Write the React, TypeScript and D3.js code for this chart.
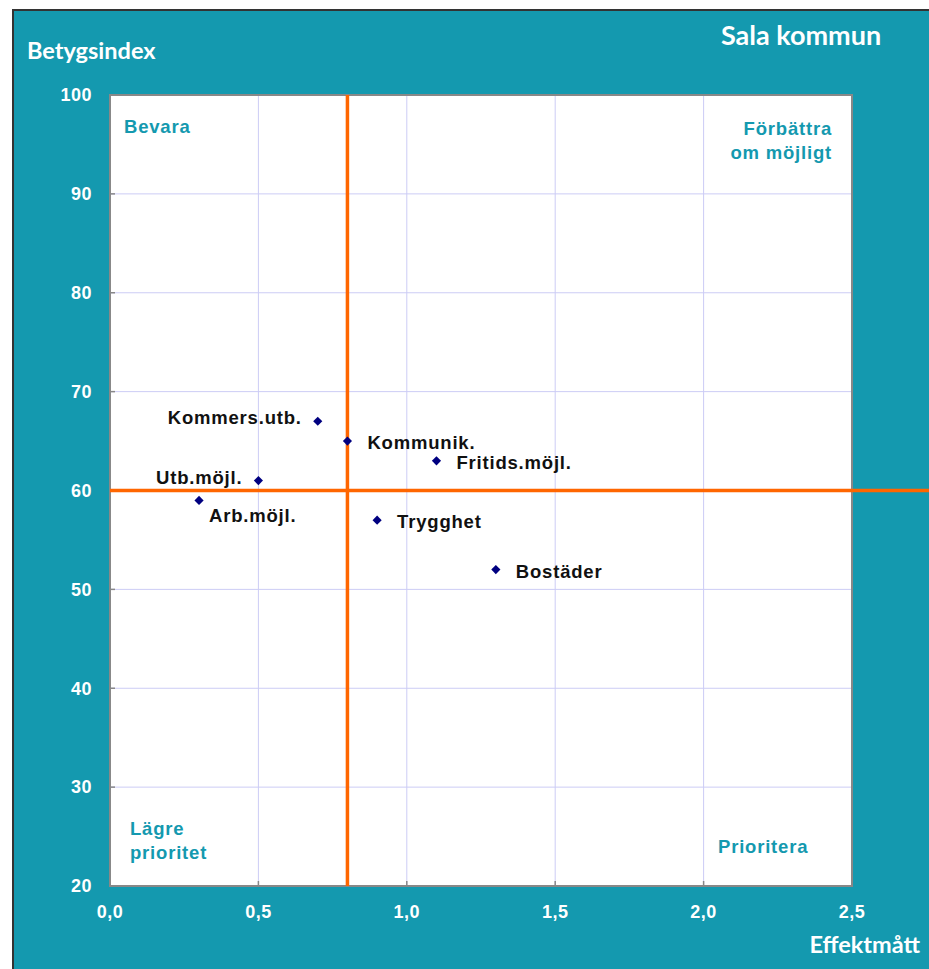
import React, { useRef, useEffect } from 'react';
import * as d3 from 'd3';

// data
const labels = ['Kommers.utb.', 'Kommunik.', 'Fritids.möjl.', 'Utb.möjl.', 'Arb.möjl.', 'Trygghet', 'Bostäder'];
const effekt = [0.7, 0.8, 1.1, 0.5, 0.3, 0.9, 1.3];
const betyg = [67, 65, 63, 61, 59, 57, 52];
// where each label sits relative to its point
const labelSide = ['left', 'right', 'right', 'left', 'below', 'right', 'right'];
const xTicks = [0, 0.5, 1, 1.5, 2, 2.5];
const yTicks = [20, 30, 40, 50, 60, 70, 80, 90, 100];
const xCut = 0.8;
const yCut = 60;

const TEAL = '#1499AF';
const W = 929;
const H = 969;

const App = () => {
  const svgRef = useRef<SVGSVGElement>(null);

  useEffect(() => {
    const svg = d3.select(svgRef.current);
    svg.selectAll('*').remove();

    // bakgrund
    svg.append('rect').attr('x', 13).attr('y', 10).attr('width', W).attr('height', H)
      .attr('fill', TEAL).attr('stroke', '#333').attr('stroke-width', 2);

    const x = d3.scaleLinear().domain([0, 2.5]).range([110, 852]);
    const y = d3.scaleLinear().domain([20, 100]).range([886, 95]);

    svg.append('rect').attr('x', x(0)).attr('y', y(100))
      .attr('width', x(2.5) - x(0)).attr('height', y(20) - y(100)).attr('fill', '#fff');

    // rutnät
    const grid = svg.append('g').attr('stroke', '#ccccf5').attr('stroke-width', 1);
    grid.selectAll('line.gx').data(xTicks.slice(1, -1)).enter().append('line')
      .attr('x1', d => x(d)).attr('x2', d => x(d)).attr('y1', y(100)).attr('y2', y(20));
    grid.selectAll('line.gy').data(yTicks.slice(1, -1)).enter().append('line')
      .attr('x1', x(0)).attr('x2', x(2.5)).attr('y1', d => y(d)).attr('y2', d => y(d));

    // ram
    svg.append('rect').attr('x', x(0)).attr('y', y(100))
      .attr('width', x(2.5) - x(0)).attr('height', y(20) - y(100))
      .attr('fill', 'none').attr('stroke', '#888').attr('stroke-width', 2);

    // tickmarks
    const tk = svg.append('g').attr('stroke', '#888').attr('stroke-width', 1.5);
    tk.selectAll('line.tx').data(xTicks).enter().append('line')
      .attr('x1', d => x(d)).attr('x2', d => x(d)).attr('y1', y(20) - 5).attr('y2', y(20));
    tk.selectAll('line.ty').data(yTicks).enter().append('line')
      .attr('x1', x(0)).attr('x2', x(0) + 5).attr('y1', d => y(d)).attr('y2', d => y(d));

    // tick labels
    const tickFont = "'Liberation Sans', Arial, sans-serif";
    svg.append('g').selectAll('text').data(yTicks).enter().append('text')
      .attr('x', 92).attr('y', d => y(d)).attr('dy', '0.35em')
      .attr('text-anchor', 'end').attr('fill', '#fff').attr('font-family', tickFont)
      .attr('font-weight', 'bold').attr('font-size', 18).attr('letter-spacing', 0.5).text(d => d);
    svg.append('g').selectAll('text').data(xTicks).enter().append('text')
      .attr('x', d => x(d)).attr('y', 918)
      .attr('text-anchor', 'middle').attr('fill', '#fff').attr('font-family', tickFont)
      .attr('font-weight', 'bold').attr('font-size', 18).attr('letter-spacing', 0.5)
      .text(d => d3.format('.1f')(d).replace('.', ','));

    // orange kvadrantlinjer
    svg.append('line').attr('x1', x(xCut)).attr('x2', x(xCut)).attr('y1', y(100)).attr('y2', y(20))
      .attr('stroke', '#FF6600').attr('stroke-width', 3.5);
    svg.append('line').attr('x1', x(0)).attr('x2', W).attr('y1', y(yCut)).attr('y2', y(yCut))
      .attr('stroke', '#FF6600').attr('stroke-width', 3.5);

    // kvadrant-texter
    const q = svg.append('g').attr('fill', TEAL).attr('font-family', tickFont)
      .attr('font-weight', 'bold').attr('font-size', 18.5).attr('letter-spacing', 0.8);
    q.append('text').attr('x', 124).attr('y', 133).text('Bevara');
    q.append('text').attr('x', 832).attr('y', 135).attr('text-anchor', 'end').text('Förbättra');
    q.append('text').attr('x', 832).attr('y', 159).attr('text-anchor', 'end').text('om möjligt');
    q.append('text').attr('x', 130).attr('y', 835).text('Lägre');
    q.append('text').attr('x', 130).attr('y', 859).text('prioritet');
    q.append('text').attr('x', 718).attr('y', 853).text('Prioritera');

    // punkter
    const pts = labels.map((l, i) => ({ label: l, x: effekt[i], y: betyg[i], side: labelSide[i] }));
    svg.append('g').selectAll('path').data(pts).enter().append('path')
      .attr('d', d3.symbol().type(d3.symbolSquare).size(42))
      .attr('transform', d => `translate(${x(d.x)},${y(d.y)}) rotate(45)`)
      .attr('fill', '#000080');

    svg.append('g').selectAll('text').data(pts).enter().append('text')
      .attr('x', d => d.side === 'left' ? x(d.x) - 16 : d.side === 'below' ? x(d.x) + 10 : x(d.x) + 20)
      .attr('y', d => d.side === 'below' ? y(d.y) + 22 : d.side === 'left' ? y(d.y) + 3 : y(d.y) + 8)
      .attr('text-anchor', d => d.side === 'left' ? 'end' : 'start')
      .attr('fill', '#111').attr('font-family', tickFont).attr('font-weight', 'bold')
      .attr('font-size', 18.5).attr('letter-spacing', 0.8).text(d => d.label);

    // titlar
    const tf = "Lato, 'Open Sans', sans-serif";
    svg.append('text').attr('x', 801).attr('y', 45).attr('text-anchor', 'middle')
      .attr('fill', '#fff').attr('font-family', tf).attr('font-weight', 'bold').attr('font-size', 27)
      .text('Sala kommun');
    svg.append('text').attr('x', 27).attr('y', 59)
      .attr('fill', '#fff').attr('font-family', tf).attr('font-weight', 'bold').attr('font-size', 23.5)
      .text('Betygsindex');
    svg.append('text').attr('x', 920).attr('y', 953).attr('text-anchor', 'end')
      .attr('fill', '#fff').attr('font-family', tf).attr('font-weight', 'bold').attr('font-size', 23.5)
      .text('Effektmått');
  }, []);

  return (
    <svg ref={svgRef} width={W} height={H}
      style={{ position: 'absolute', left: 0, top: 0, background: '#fff' }} />
  );
};

export default App;
